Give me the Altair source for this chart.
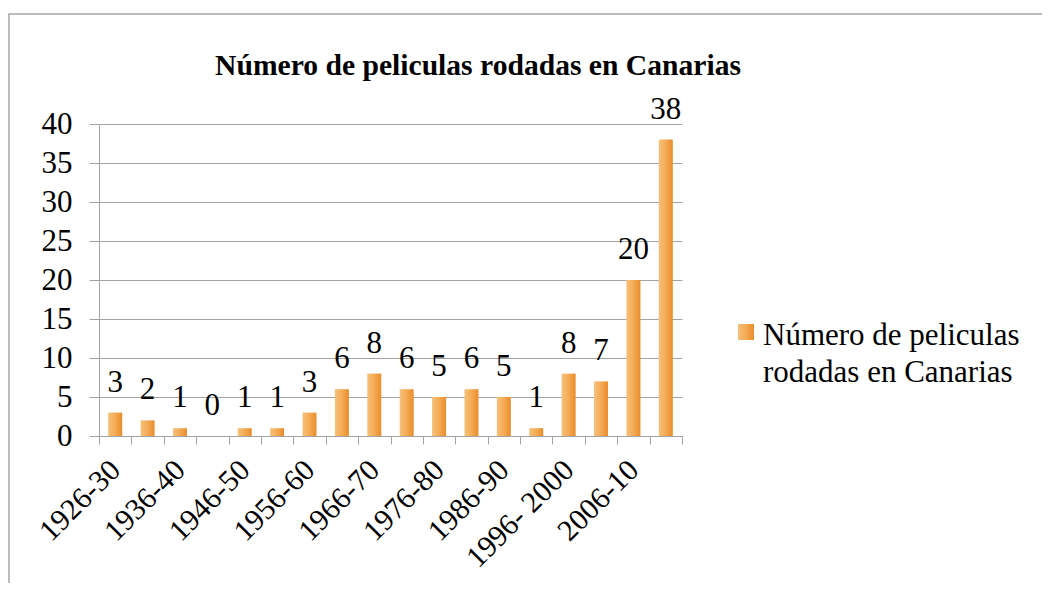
import json
import altair as alt
import pandas as pd

# ---- data ----
periods = ["1926-30", "1931-35", "1936-40", "1941-45", "1946-50", "1951-55",
           "1956-60", "1961-65", "1966-70", "1971-75", "1976-80", "1981-85",
           "1986-90", "1991-95", "1996- 2000", "2001-05", "2006-10", "2011-15"]
counts = [3, 2, 1, 0, 1, 1, 3, 6, 8, 6, 5, 6, 5, 1, 8, 7, 20, 38]
shown_labels = ["1926-30", "1936-40", "1946-50", "1956-60", "1966-70",
                "1976-80", "1986-90", "1996- 2000", "2006-10"]
y_ticks = [0, 5, 10, 15, 20, 25, 30, 35, 40]
title_text = "Número de peliculas rodadas en Canarias"
legend_lines = ["Número de peliculas", "rodadas en Canarias"]

df = pd.DataFrame({"period": periods, "count": counts})
one = pd.DataFrame({"k": [0]})

W, H = 583, 312
FONT = "Times New Roman, Liberation Serif, serif"
GRAY = "#a3a3a3"

bar_grad = alt.Gradient(
    gradient="linear", x1=0, x2=1, y1=0, y2=0,
    stops=[alt.GradientStop(offset=0, color="#f4c07a"),
           alt.GradientStop(offset=0.45, color="#f6ad58"),
           alt.GradientStop(offset=1, color="#e88d2c")])

label_expr = "indexof(" + json.dumps(shown_labels) + ", datum.value) >= 0 ? datum.label : ''"

x_enc = alt.X("period:N", sort=periods,
              scale=alt.Scale(paddingInner=0, paddingOuter=0),
              axis=alt.Axis(title=None, labelAngle=-45, labelAlign="right",
                            labelBaseline="middle", labelFont=FONT, labelFontSize=30,
                            labelColor="black", labelPadding=21, tickSize=8,
                            tickColor=GRAY, domainColor=GRAY, tickBand="extent",
                            labelExpr=label_expr, labelOverlap=False, labelLimit=400,
                            grid=False))
y_enc = alt.Y("count:Q", scale=alt.Scale(domain=[0, 40], nice=False),
              axis=alt.Axis(title=None, values=y_ticks, labelFont=FONT, labelFontSize=31,
                            labelColor="black", labelPadding=17, tickSize=10,
                            tickColor=GRAY, domainColor=GRAY, gridColor=GRAY,
                            gridWidth=1.2, labelBaseline="middle"))

base = alt.Chart(df)

bars = base.mark_bar(size=14, color=bar_grad).encode(x=x_enc, y=y_enc)

labels = base.mark_text(font=FONT, fontSize=31, baseline="alphabetic", dy=-21,
                        color="black").encode(x=x_enc, y=y_enc, text="count:Q")

one_chart = alt.Chart(one)

border = one_chart.mark_rect(filled=False, stroke="#a6a6a6", strokeWidth=1.5).encode(
    x=alt.value(-90), x2=alt.value(949), y=alt.value(-110), y2=alt.value(480))

title = one_chart.mark_text(font=FONT, fontSize=29.6, fontWeight="bold",
                            align="center", baseline="alphabetic", color="black").encode(
    x=alt.value(379), y=alt.value(-49), text=alt.value(title_text))

legend_sym = one_chart.mark_rect(color=bar_grad).encode(
    x=alt.value(639), x2=alt.value(655), y=alt.value(200), y2=alt.value(216))

legend_t1 = one_chart.mark_text(font=FONT, fontSize=31, align="left",
                                baseline="alphabetic", color="black").encode(
    x=alt.value(664), y=alt.value(221), text=alt.value(legend_lines[0]))
legend_t2 = one_chart.mark_text(font=FONT, fontSize=31, align="left",
                                baseline="alphabetic", color="black").encode(
    x=alt.value(664), y=alt.value(258), text=alt.value(legend_lines[1]))

chart = alt.layer(border, bars, labels, title, legend_sym, legend_t1, legend_t2).properties(
    width=W, height=H,
    autosize=alt.AutoSizeParams(type="none"),
    padding={"left": 91, "top": 116, "right": 360, "bottom": 147},
    background="white",
).configure(font=FONT).configure_axis(labelFont=FONT).configure_text(font=FONT).configure_view(stroke=None)

chart.save("out.html", embed_options={"renderer": "svg", "actions": False})
